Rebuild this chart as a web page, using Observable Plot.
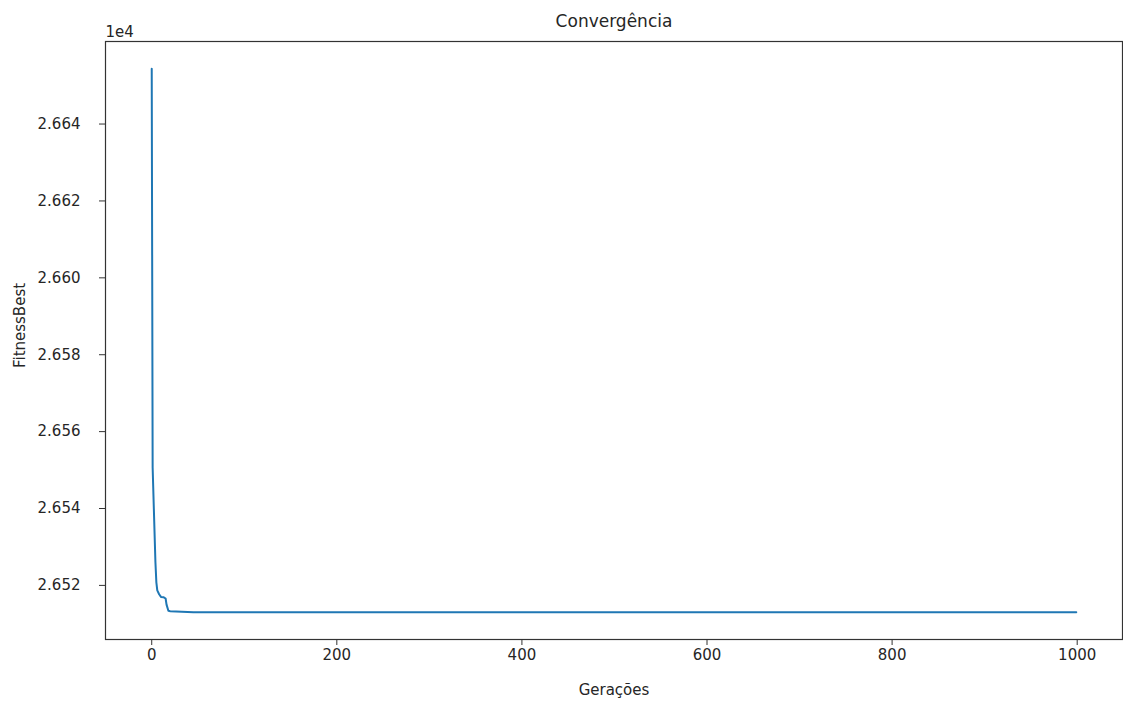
<!DOCTYPE html>
<html>
<head>
<meta charset="utf-8">
<script src="https://cdn.jsdelivr.net/npm/d3@7"></script>
<script src="https://cdn.jsdelivr.net/npm/@observablehq/plot@0.6"></script>
<style>
  html, body { margin: 0; padding: 0; background: #fff; }
  #chart svg { display: block; }
</style>
</head>
<body>
<div id="chart"></div>
<script>
// Data (generation -> best fitness)
const generations = [0, 1, 2, 4, 5, 6, 8, 10, 13, 15, 16, 18, 20, 45, 999];
const fitnessBest = [26654.4, 26550.6, 26542.3, 26526.0, 26520.8, 26518.7, 26517.7, 26517.0, 26516.9, 26516.6, 26515.0, 26513.4, 26513.3, 26513.0, 26513.0];
const yTicks = [26520, 26540, 26560, 26580, 26600, 26620, 26640];
const xTicks = [0, 200, 400, 600, 800, 1000];
const titleText = "Convergência";
const xLabel = "Gerações";
const yLabel = "FitnessBest";
const offsetText = "1e4";

const data = generations.map((g, i) => ({gen: g, fit: fitnessBest[i]}));

// matplotlib-like 5% margins
const xMin = d3.min(generations), xMax = d3.max(generations);
const yMin = d3.min(fitnessBest), yMax = d3.max(fitnessBest);
const xPad = (xMax - xMin) * 0.05, yPad = (yMax - yMin) * 0.05;

const font = "DejaVu Sans, sans-serif";
const ink = "#262626";

const chart = Plot.plot({
  width: 1123,
  height: 701,
  marginLeft: 105,
  marginRight: 1,
  marginTop: 41,
  marginBottom: 62,
  style: {fontFamily: font, fontSize: "15px", color: ink, background: "#fff"},
  x: {domain: [xMin - xPad, xMax + xPad]},
  y: {domain: [yMin - yPad, yMax + yPad]},
  marks: [
    Plot.frame({stroke: "#333", strokeWidth: 1.2}),
    Plot.line(data, {x: "gen", y: "fit", stroke: "#1f77b4", strokeWidth: 2}),
    Plot.axisX({
      ticks: xTicks, tickSize: 6, tickPadding: 4, fontSize: 15,
      stroke: "#333", tickFormat: d => String(d),
      label: xLabel, labelAnchor: "center", labelArrow: "none", labelOffset: 55
    }),
    Plot.axisY({
      ticks: yTicks, tickSize: 6, tickPadding: 19, fontSize: 15,
      stroke: "#333",
      tickFormat: d => (d / 1e4).toFixed(3),
      label: null
    }),
    Plot.text([yLabel], {
      frameAnchor: "left", text: d => d, rotate: -90,
      dx: -85, dy: -15, lineAnchor: "middle", textAnchor: "middle",
      fontSize: 15, fill: ink
    }),
    Plot.text([titleText], {
      frameAnchor: "top", text: d => d, dy: -20, lineAnchor: "middle",
      fontSize: 17, fill: ink
    }),
    Plot.text([offsetText], {
      frameAnchor: "top-left", text: d => d, dy: -5, lineAnchor: "bottom",
      textAnchor: "start", fontSize: 15, fill: ink
    })
  ]
});
document.getElementById("chart").appendChild(chart);
</script>
</body>
</html>
